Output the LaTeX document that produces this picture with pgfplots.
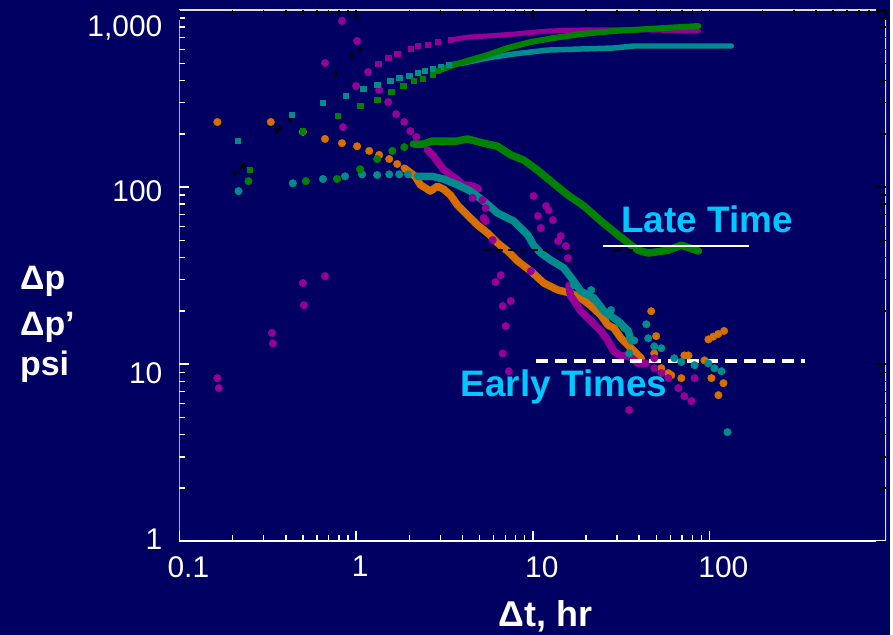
\documentclass[border=0pt]{standalone}
\usepackage{fontspec}
\setmainfont{Liberation Sans}
\usepackage{pgfplots}
\pgfplotsset{compat=1.18}
\definecolor{bg}{RGB}{0,0,98}
\definecolor{cmag}{RGB}{150,0,150}
\definecolor{cgrn}{RGB}{0,130,0}
\definecolor{cteal}{RGB}{0,140,140}
\definecolor{corg}{RGB}{215,110,0}
\definecolor{ccyan}{RGB}{0,200,255}
\begin{document}
\begin{tikzpicture}
\fill[bg] (-180pt,-94pt) rectangle (713pt,543pt);
\begin{axis}[
  at={(0pt,0pt)}, anchor=south west,
  scale only axis, width=709pt, height=533pt,
  xmode=log, ymode=log,
  xmin=0.1, xmax=1000, ymin=1, ymax=1000,
  axis line style={draw=none},
  xtick={0.1,1,10,100},
  xticklabels={0.1,{\hspace*{-10pt}1},10,{\hspace*{10pt}100}},
  ytick={1,10,100,1000},
  yticklabels={{\raisebox{8pt}{1}},{\raisebox{-3pt}{10}},{\raisebox{2pt}{100}},{\raisebox{-11pt}{1,000}}},
  xtick pos=left, ytick pos=left,
  tick align=inside,
  major tick length=10pt, minor tick length=6pt,
  tick style={white, line width=1.5pt},
  x tick label style={font=\fontsize{30pt}{36pt}\selectfont, text=white, anchor=north, inner sep=0pt, yshift=-15pt, xshift=9pt},
  y tick label style={font=\fontsize{30pt}{36pt}\selectfont, text=white, anchor=base east, inner sep=0pt, xshift=-17pt, yshift=-16pt},
  mk/.style={only marks, mark=*, mark size=3.8pt, mark options={draw=#1, fill=#1}},
  sq/.style={only marks, mark=square*, mark size=2.6pt, mark options={draw=#1, fill=#1}},
  ln/.style={#1, line width=7.5pt, line join=round, line cap=round, mark=none},
]
% ---------- orange derivative ----------
\addplot[mk=corg] coordinates {(0.164,233) (0.329,233) (0.500,205) (0.667,187) (0.832,177) (1.013,170) (1.186,160) (1.351,152) (1.540,144) (1.709,135)};
\addplot[ln=corg] coordinates {(1.874,128) (2.16,115) (2.31,103) (2.63,94.9) (2.884,101) (3.12,97.5) (3.42,90.1) (3.75,79.1) (4.27,69.5) (4.87,61.0) (5.55,55.0) (6.32,48.3) (7.21,43.5) (8.22,38.2) (9.75,33.5) (11.55,28.7) (13.9,26.2) (16.4,25.2) (18.7,23.6) (21.4,21.3) (24.3,18.9) (26.7,16.6) (28.8,16.0) (31.6,14.0) (36.0,12.3) (41.1,10.8)};
\addplot[mk=corg] coordinates {(46.8,19.9) (49.9,14.4) (48.7,11.5) (53.4,9.49) (58.5,8.9) (60.8,8.66) (69.3,8.34) (72.1,11.2) (76.0,11.2) (93.7,10.5) (102.6,8.34) (120,7.81) (112.4,6.68) (98.6,13.8) (105,14.3) (112,14.8) (121,15.4)};
% ---------- magenta ----------
\addplot[sq=cmag] coordinates {(1.334,495) (1.520,536) (1.709,564) (2.027,602) (2.222,626) (2.53,634) (2.884,660) (3.42,677)};
\addplot[cmag, line width=5pt, line join=round, line cap=round] coordinates {(3.42,677) (4.27,703) (5.55,713) (7.80,731) (12.2,761) (18.7,771) (28.8,771) (45.0,771) (86.6,761)};
\addplot[mk=cmag] coordinates {(0.164,8.34) (0.167,7.32) (0.334,15.0) (0.338,13.1) (0.507,21.5) (0.500,28.7) (0.667,31.4) (0.832,867) (1.013,668) (0.667,502) (1.170,446) (1.0,372) (0.843,218) (1.351,353) (1.520,302) (1.687,258) (1.874,233) (2.027,207) (2.193,192)};
\addplot[ln=cmag] coordinates {(2.53,162) (2.738,150) (2.922,137) (3.12,126) (3.42,117) (3.75,110) (4.0,103) (4.62,101) (4.93,97.5)};
\addplot[mk=cmag] coordinates {(4.56,86.7) (5.20,84.5) (5.41,76.1) (5.27,66.8) (5.41,64.3) (5.93,50.2) (6.58,31.8) (6.16,29.1) (7.50,22.7) (6.76,21.3) (7.03,16.4) (6.76,11.5) (7.31,9.12) (10.1,89.0) (11.9,78.1) (12.3,74.1) (10.7,68.6) (11.1,58.7) (13.0,65.1) (14.4,52.9) (13.9,49.5) (15.4,46.5) (15.8,39.7) (9.75,33.5) (35.1,5.50) (82.3,8.34) (48.7,10.8)};
\addplot[ln=cmag] coordinates {(16.0,27.9) (16.4,24.2) (17.5,22.1) (18.7,19.9) (20.0,18.7) (21.4,17.5) (22.8,16.4) (24.3,15.4) (26.7,13.5) (28.8,11.8) (31.6,11.1) (34.7,11.2) (39.5,10.1) (43.9,10.1)};
\addplot[mk=cmag] coordinates {(48.7,9.49) (53.4,8.90) (58.5,8.34) (66.7,7.32) (72.1,6.59) (79.1,6.18)};
% ---------- teal ----------
\addplot[sq=cteal] coordinates {(0.214,182) (0.433,255) (0.649,298) (0.877,327) (1.096,358) (1.316,377) (1.560,397) (1.754,413) (2.00,424) (2.222,441) (2.435,452) (2.70,464) (3.0,476) (3.33,489)};
\addplot[cteal, line width=5.5pt, line join=round, line cap=round] coordinates {(3.33,489) (4.06,502) (5.55,536) (7.80,564) (9.75,579) (12.2,594) (18.7,602) (28.8,610) (37.5,626) (69.3,626) (133,626)};
\addplot[mk=cteal] coordinates {(0.216,94.9) (0.438,105) (0.649,111) (0.866,115) (1.081,118) (1.316,117) (1.540,118) (1.754,118) (1.97,118)};
\addplot[ln=cteal] coordinates {(2.222,115) (2.466,115) (2.70,115) (3.12,111) (3.75,103) (4.44,94.9) (5.27,83.4) (6.32,71.3) (7.80,64.3) (9.37,53.6) (10.1,47.0) (11.1,42.4) (12.65,38.7) (15.0,34.9) (16.9,29.8) (18.7,25.8) (22.2,23.6) (25.3,19.9) (30.4,17.5) (34.7,15.4) (36.0,13.5)};
\addplot[mk=cteal] coordinates {(17.1,27.9) (21.4,26.2) (27.7,20.2) (32.9,16.0) (37.5,13.6) (43.9,16.8) (35.1,11.5) (45.0,14.0) (48.7,12.6) (53.4,12.3) (63.2,10.8) (69.3,10.3) (82.3,9.87) (98.6,10.1) (106.7,9.49) (117,9.12) (126.5,4.13)};
% ---------- green ----------
\addplot[sq=cgrn] coordinates {(0.250,125) (0.500,207) (0.790,252) (1.054,287) (1.316,310) (1.581,344) (1.849,372) (2.109,397) (2.372,408) (2.70,429) (2.884,452)};
\addplot[cgrn, line width=6pt, line join=round, line cap=round] coordinates {(2.884,452) (3.56,489) (4.44,522) (5.55,557) (7.21,610) (9.75,660) (13.2,695) (18.7,731) (28.8,761) (45.0,781) (69.3,801) (86.6,812)};
\addplot[mk=cgrn] coordinates {(0.246,108) (0.520,108) (0.780,111) (1.054,126) (1.316,144) (1.602,160) (1.874,168)};
\addplot[ln=cgrn] coordinates {(2.109,175) (2.403,175) (2.70,182) (3.29,182) (3.75,182) (4.27,187) (5.27,177) (6.32,170) (7.50,152) (8.89,142) (10.7,124) (12.65,108) (15.8,90.1) (19.5,78.1) (24.3,64.3) (30.4,53.6) (36.0,47.0) (39.5,44.0) (45.0,42.4) (58.5,44.0) (69.3,47.0) (86.6,43.5)};
% ---------- black ----------
\addplot[only marks, mark=*, mark size=2pt, black] coordinates {(0.205,120) (0.225,130) (0.231,133) (0.356,207) (0.370,218) (0.422,239) (0.769,435) (0.948,550) (1.054,602)};
\addplot[black, line width=2.5pt, dash pattern=on 7pt off 5pt] coordinates {(5.27,44) (16.9,44)};
\addplot[black, line width=2.5pt, dash pattern=on 7pt off 5pt] coordinates {(28.8,44) (37.5,44)};
% ---------- annotation lines ----------
\addplot[white, line width=2.5pt] coordinates {(25,46.4) (167,46.4)};
\addplot[white, line width=3.5pt, dash pattern=on 12pt off 7pt] coordinates {(10.4,10.4) (347,10.4)};
% frame
\draw[white, line width=2pt] (rel axis cs:0,1) -- (rel axis cs:0,0) -- (rel axis cs:1,0);
\draw[white!75!gray, line width=2pt] (rel axis cs:0,1) -- (rel axis cs:1,1) -- (rel axis cs:1,0);
\end{axis}
\begin{axis}[
  at={(0pt,0pt)}, anchor=south west,
  scale only axis, width=709pt, height=533pt,
  xmode=log, ymode=log,
  xmin=0.1, xmax=1000, ymin=1, ymax=1000,
  axis line style={draw=none},
  xtick={0.1,1,10,100,1000}, ytick={1,10,100,1000},
  xticklabels={}, yticklabels={},
  xtick pos=right, ytick pos=right,
  tick align=inside,
  major tick length=10pt, minor tick length=6pt,
  tick style={black, line width=1.5pt},
]
\end{axis}
\node[anchor=base west, inner sep=0pt, text=white, font=\bfseries\fontsize{34pt}{40pt}\selectfont] at (-160pt,253pt) {Δp};
\node[anchor=base west, inner sep=0pt, text=white, font=\bfseries\fontsize{34pt}{40pt}\selectfont] at (-160pt,206pt) {Δp’};
\node[anchor=base west, inner sep=0pt, text=white, font=\bfseries\fontsize{34pt}{40pt}\selectfont] at (-160pt,166pt) {psi};
\node[anchor=base, inner sep=0pt, text=white, font=\bfseries\fontsize{36pt}{42pt}\selectfont] at (367pt,-86pt) {Δt, hr};
\node[anchor=base west, inner sep=0pt, text=ccyan, font=\bfseries\fontsize{37pt}{44pt}\selectfont] at (443pt,310pt) {Late Time};
\node[anchor=base west, inner sep=0pt, text=ccyan, font=\bfseries\fontsize{37pt}{44pt}\selectfont] at (282pt,145pt) {Early Times};
\end{tikzpicture}
\end{document}
